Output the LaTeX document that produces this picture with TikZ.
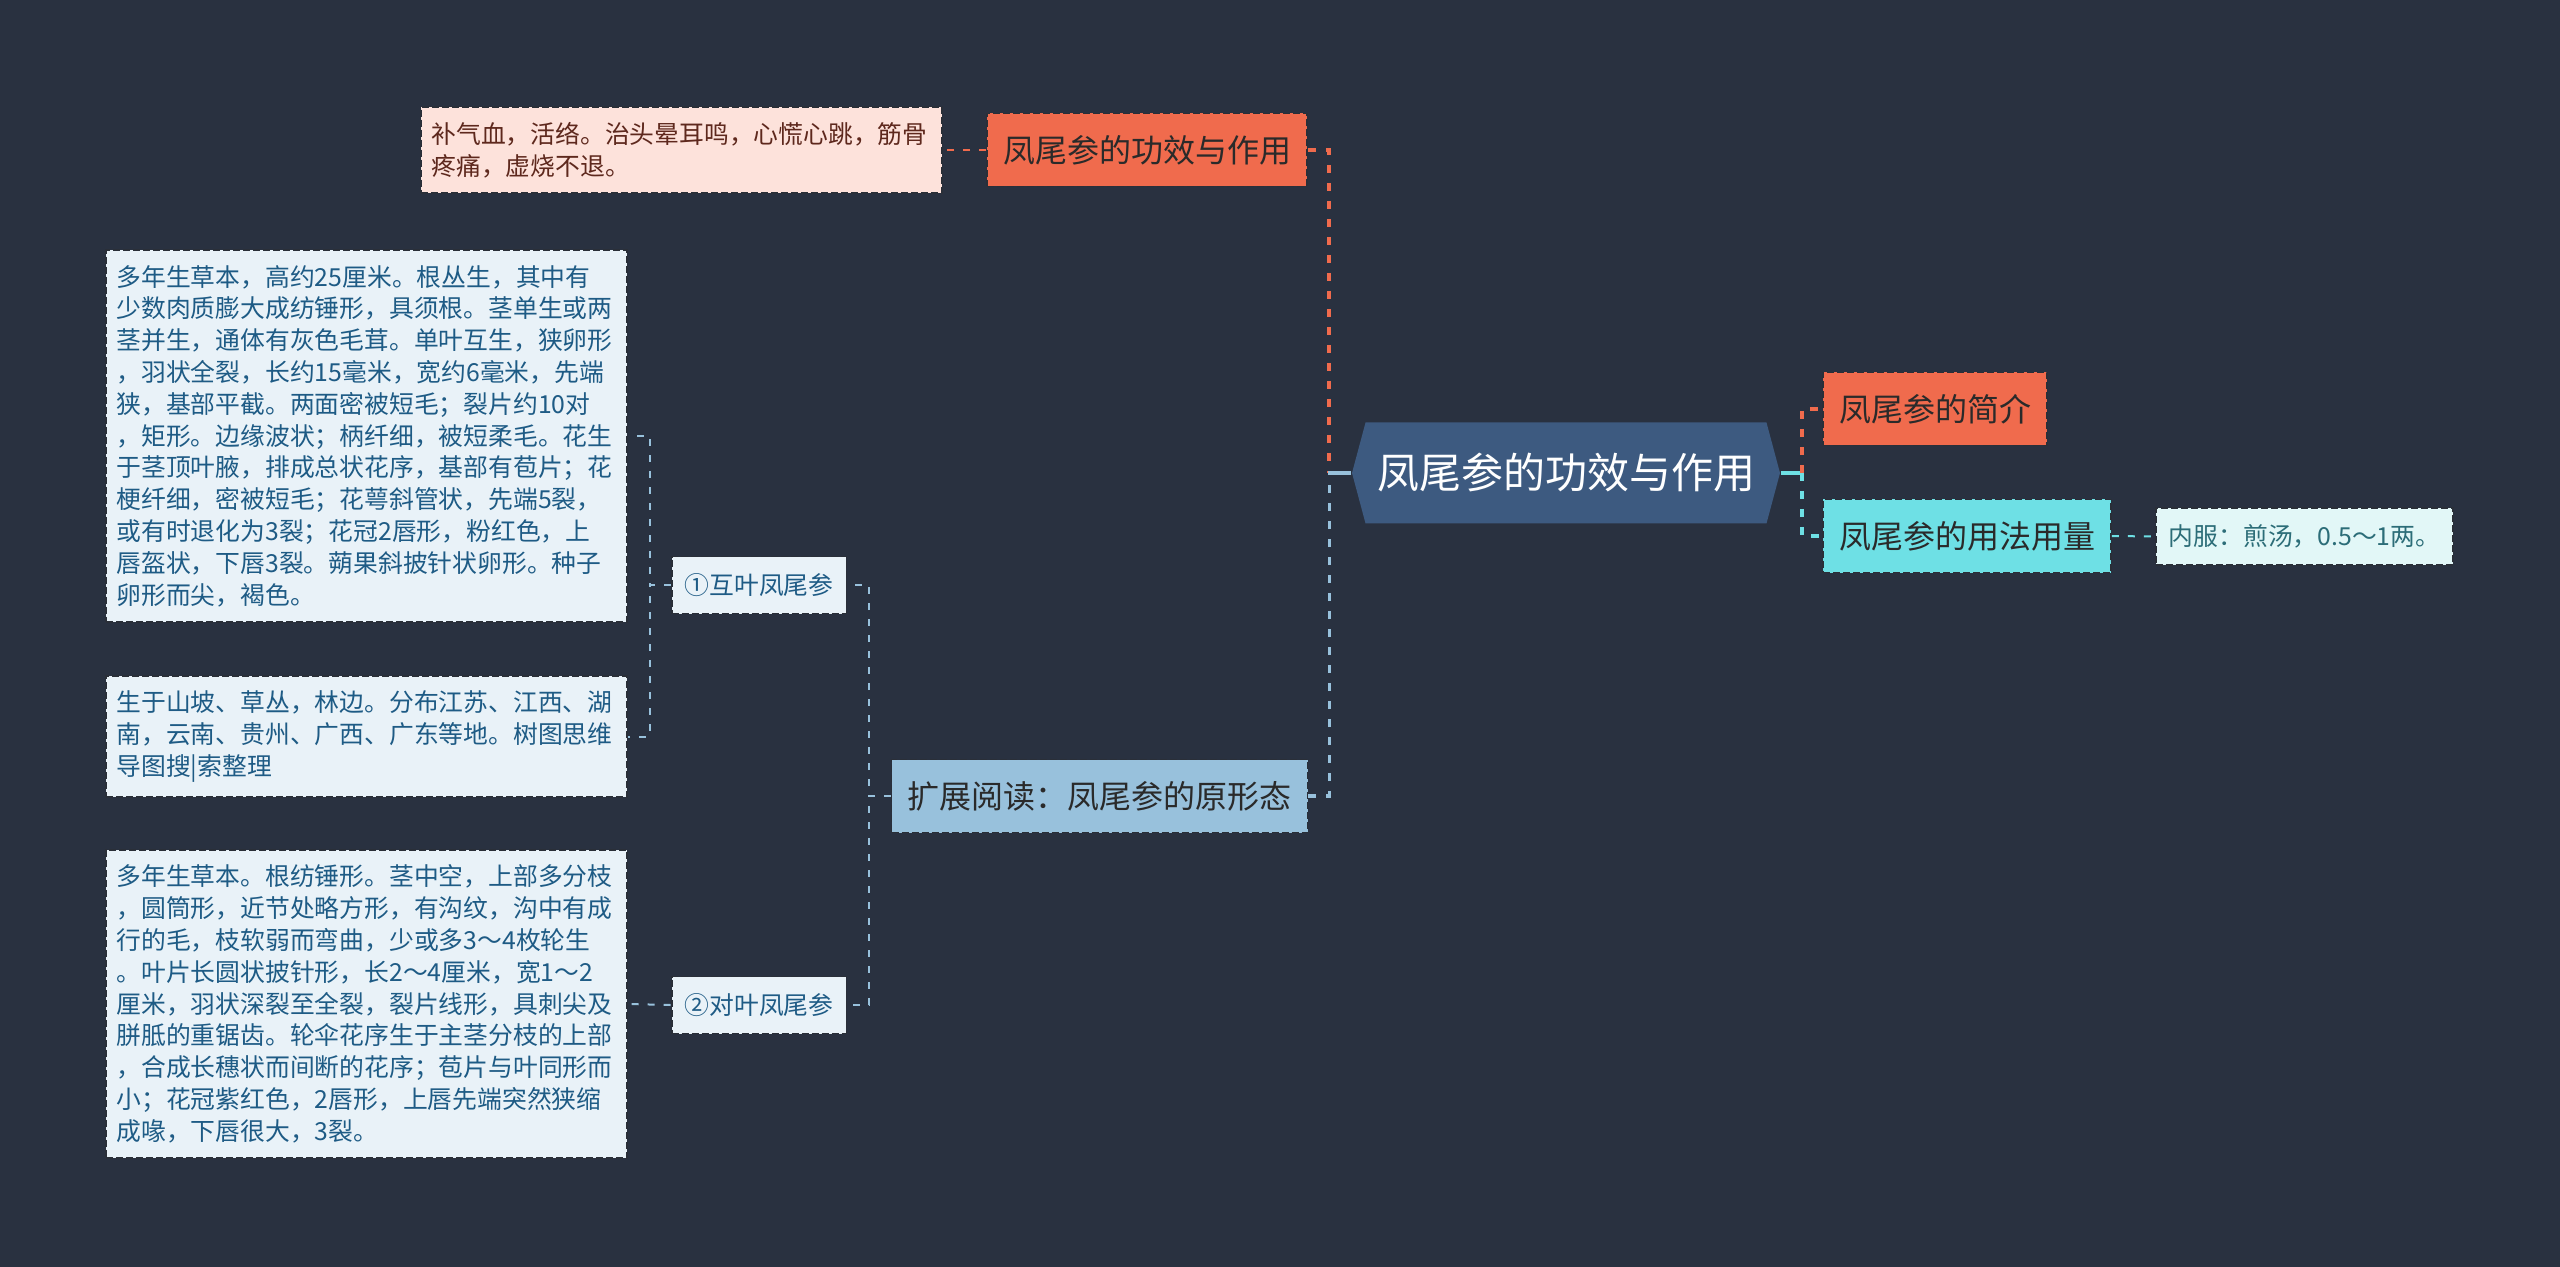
\documentclass[tikz,border=0pt]{standalone}
\usepackage{fontspec}
\setmainfont{Noto Sans CJK SC}
\usepackage{tikz}
\usetikzlibrary{shapes.symbols}

\definecolor{bgdark}{HTML}{293140}
\definecolor{rootblue}{HTML}{3D5A80}
\definecolor{hotorange}{HTML}{F06B4D}
\definecolor{pinkfill}{HTML}{FDE2DB}
\definecolor{pinktext}{HTML}{5E281D}
\definecolor{cyanfill}{HTML}{6EE0E5}
\definecolor{mintfill}{HTML}{E2F7F7}
\definecolor{minttext}{HTML}{2C6D78}
\definecolor{steelfill}{HTML}{98C1DC}
\definecolor{palefill}{HTML}{E9F2F8}
\definecolor{paletext}{HTML}{1E5B85}
\definecolor{darktext}{HTML}{2A2A2A}
\definecolor{rimgray}{HTML}{2A2F38}

\begin{document}
\begin{tikzpicture}[
		  x=0.5pt, y=-0.5pt,
		  every node/.style = {shape=rectangle, draw=rimgray, dash pattern=on 3.5pt off 1.5pt, line width=0.9pt, align=left, inner ysep=0pt},
		  rootbox/.style = {shape=signal, signal to=west and east, signal pointer angle=150, draw=none, fill=rootblue, text=white, font=\fontsize{21}{25}\selectfont, minimum width=214pt, minimum height=50.5pt, inner xsep=4pt},
		  topicbox/.style = {text=darktext, font=\fontsize{16}{19}\selectfont, minimum height=36.5pt, inner xsep=8pt},
		  leafbox/.style = {font=\fontsize{12.4}{15.9}\selectfont, minimum height=28.5pt, inner xsep=6.5pt},
		  notebox/.style = {fill=palefill, text=paletext, font=\fontsize{12.4}{15.9}\selectfont, text width=250pt, inner xsep=5.25pt, inner ysep=7.5pt},
		  stub/.style = {draw, line width=1.6pt},
		  mainlink/.style = {draw, line width=1.6pt, dash pattern=on 4pt off 5pt},
		  link/.style = {draw, line width=1pt, dash pattern=on 3.5pt off 4.5pt}
		]

		\fill[bgdark] (0,0) rectangle (2560,1267);
		\useasboundingbox (0,0) rectangle (2560,1267);

		\node[rootbox] (root) at (1566,473) {凤尾参的功效与作用};

		\node[topicbox, fill=hotorange] (gongxiao) at (1147,150) {凤尾参的功效与作用};
		\node[notebox, fill=pinkfill, text=pinktext] (buqi) at (681.5,150) {补气血，活络。治头晕耳鸣，心慌心跳，筋骨\\疼痛，虚烧不退。};

		\node[topicbox, fill=hotorange] (jianjie) at (1935,409) {凤尾参的简介};
		\node[topicbox, fill=cyanfill] (yongfa) at (1967,536) {凤尾参的用法用量};
		\node[leafbox, fill=mintfill, text=minttext] (neifu) at (2304.5,536.5) {内服：煎汤，0.5～1两。};

		\node[topicbox, fill=steelfill] (kuozhan) at (1099.5,796) {扩展阅读：凤尾参的原形态};
		\node[leafbox, fill=palefill, text=paletext] (huye) at (759,585) {①互叶凤尾参};
		\node[leafbox, fill=palefill, text=paletext] (duiye) at (759,1005) {②对叶凤尾参};

		\node[notebox] (huyeform) at (366.5,436) {多年生草本，高约25厘米。根丛生，其中有\\
			少数肉质膨大成纺锤形，具须根。茎单生或两\\
			茎并生，通体有灰色毛茸。单叶互生，狭卵形\\
			，羽状全裂，长约15毫米，宽约6毫米，先端\\
			狭，基部平截。两面密被短毛；裂片约10对\\
			，矩形。边缘波状；柄纤细，被短柔毛。花生\\
			于茎顶叶腋，排成总状花序，基部有苞片；花\\
			梗纤细，密被短毛；花萼斜管状，先端5裂，\\
			或有时退化为3裂；花冠2唇形，粉红色，上\\
			唇盔状，下唇3裂。蒴果斜披针状卵形。种子\\
			卵形而尖，褐色。};
		\node[notebox] (huyeplace) at (366.5,736.5) {生于山坡、草丛，林边。分布江苏、江西、湖\\
			南，云南、贵州、广西、广东等地。树图思维\\
			导图搜|索整理};
		\node[notebox] (duiyeform) at (366.5,1004) {多年生草本。根纺锤形。茎中空，上部多分枝\\
			，圆筒形，近节处略方形，有沟纹，沟中有成\\
			行的毛，枝软弱而弯曲，少或多3～4枚轮生\\
			。叶片长圆状披针形，长2～4厘米，宽1～2\\
			厘米，羽状深裂至全裂，裂片线形，具刺尖及\\
			胼胝的重锯齿。轮伞花序生于主茎分枝的上部\\
			，合成长穗状而间断的花序；苞片与叶同形而\\
			小；花冠紫红色，2唇形，上唇先端突然狭缩\\
			成喙，下唇很大，3裂。};

		\draw[stub, steelfill] (root.west) -- ++(-23,0) coordinate (lefthub);
		\draw[stub, cyanfill] (root.east) -- ++(21,0) coordinate (righthub);

		\draw[mainlink, hotorange] (gongxiao.east) -- ++(21,0) |- (lefthub);
		\draw[mainlink, steelfill] (kuozhan.east) -- ++(21,0) |- (lefthub);
		\draw[mainlink, hotorange] (righthub) |- (jianjie.west);
		\draw[mainlink, cyanfill] (righthub) |- (yongfa.west);
		\draw[link, hotorange] (gongxiao.west) -- (buqi.east);
		\draw[link, cyanfill] (yongfa.east) -- (neifu.west);
		\draw[link, steelfill] (kuozhan.west) -- ++(-22,0) |- (huye.east);
		\draw[link, steelfill] (kuozhan.west) -- ++(-22,0) |- (duiye.east);
		\draw[link, steelfill] (huye.west) -- ++(-21,0) |- (huyeform.east);
		\draw[link, steelfill] (huye.west) -- ++(-21,0) |- (huyeplace.east);
		\draw[link, steelfill] (duiye.west) -- (duiyeform.east);
		\end{tikzpicture}
\end{document}
